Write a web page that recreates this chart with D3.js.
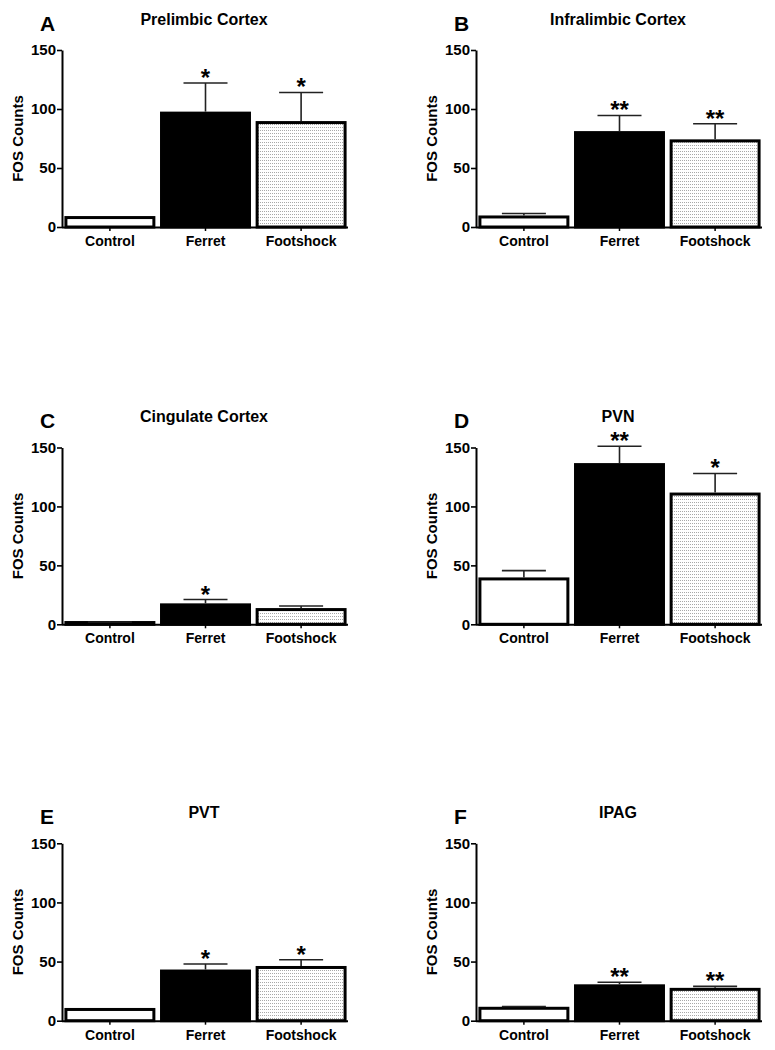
<!DOCTYPE html>
<html>
<head>
<meta charset="utf-8">
<script src="https://cdn.jsdelivr.net/npm/d3@7"></script>
<style>
  body { margin: 0; background: #fff; }
  svg { display: block; }
  text { font-family: "Liberation Sans", Arial, sans-serif; font-weight: bold; fill: #000; }
</style>
</head>
<body>
<svg id="chart" width="775" height="1050"></svg>
<script>
// ---- data ----
const categories = ["Control", "Ferret", "Footshock"];
const panelLetters = ["A", "B", "C", "D", "E", "F"];
const panelTitles = ["Prelimbic Cortex", "Infralimbic Cortex", "Cingulate Cortex", "PVN", "PVT", "IPAG"];
const yTicks = [0, 50, 100, 150];
const yLabel = "FOS Counts";

const prelimbicMeans = [8, 96.5, 88.5];
const prelimbicSem = [0, 25.5, 25.5];
const infralimbicMeans = [8.5, 80, 73];
const infralimbicSem = [3, 14.5, 14.5];
const cingulateMeans = [1.5, 16.5, 12.5];
const cingulateSem = [0.5, 4.5, 3];
const pvnMeans = [38.5, 135.5, 110.5];
const pvnSem = [7, 15.5, 17.5];
const pvtMeans = [9.5, 42, 45];
const pvtSem = [0, 6, 6.5];
const ipagMeans = [10.5, 29.5, 26.5];
const ipagSem = [1.5, 3, 2.5];

const prelimbicStars = ["", "*", "*"];
const infralimbicStars = ["", "**", "**"];
const cingulateStars = ["", "*", ""];
const pvnStars = ["", "**", "*"];
const pvtStars = ["", "*", "*"];
const ipagStars = ["", "**", "**"];

const panelMeans = [prelimbicMeans, infralimbicMeans, cingulateMeans, pvnMeans, pvtMeans, ipagMeans];
const panelSem = [prelimbicSem, infralimbicSem, cingulateSem, pvnSem, pvtSem, ipagSem];
const panelStars = [prelimbicStars, infralimbicStars, cingulateStars, pvnStars, pvtStars, ipagStars];

// ---- layout ----
const colAxisX = [62, 476];
const rowY0 = [227, 624.3, 1020.7];
const rowY150 = [50, 447.5, 843.3];
const axisLen = 286;

const svg = d3.select("#chart");

// dotted pattern for Footshock
const defs = svg.append("defs");
const pat = defs.append("pattern")
  .attr("id", "dots").attr("patternUnits", "userSpaceOnUse")
  .attr("width", 2).attr("height", 3);
pat.append("rect").attr("width", 2).attr("height", 3).attr("fill", "#fff");
pat.append("rect").attr("x", 0).attr("y", 1).attr("width", 1).attr("height", 1).attr("fill", "#a8a8a8");

const fills = ["#fff", "#000", "url(#dots)"];

panelTitles.forEach((title, i) => {
  const col = i % 2, row = Math.floor(i / 2);
  const ax = colAxisX[col];
  const y = d3.scaleLinear().domain([0, 150]).range([rowY0[row], rowY150[row]]);
  const x = d3.scaleBand().domain(categories)
    .range([ax + 2, ax + axisLen - 1]).paddingInner(0.08).paddingOuter(0.02);
  const g = svg.append("g");
  const means = panelMeans[i], sem = panelSem[i], stars = panelStars[i];

  // bars
  g.selectAll("rect.bar").data(categories).join("rect")
    .attr("class", "bar")
    .attr("x", d => x(d))
    .attr("y", (d, k) => y(means[k]))
    .attr("width", x.bandwidth())
    .attr("height", (d, k) => y(0) - y(means[k]))
    .attr("fill", (d, k) => fills[k])
    .attr("stroke", "#000").attr("stroke-width", 3);

  // error bars
  categories.forEach((c, k) => {
    if (sem[k] <= 0) return;
    const cx = x(c) + x.bandwidth() / 2;
    const ytop = y(means[k] + sem[k]);
    g.append("line").attr("x1", cx).attr("x2", cx)
      .attr("y1", y(means[k]) - 1.5).attr("y2", ytop)
      .attr("stroke", "#222").attr("stroke-width", 1.6);
    g.append("line").attr("x1", cx - 22).attr("x2", cx + 22)
      .attr("y1", ytop).attr("y2", ytop)
      .attr("stroke", "#222").attr("stroke-width", 1.6);
    if (stars[k]) {
      g.append("text").attr("x", cx).attr("y", ytop + 3)
        .attr("text-anchor", "middle").style("font-size", "24px")
        .text(stars[k]);
    }
  });

  // y axis
  const yAxis = d3.axisLeft(y).tickValues(yTicks).tickSize(5).tickPadding(1).tickSizeOuter(0);
  const ya = g.append("g").attr("transform", `translate(${ax},0)`).call(yAxis);
  ya.select(".domain").attr("stroke", "#000").attr("stroke-width", 2);
  ya.selectAll(".tick line").attr("stroke", "#000").attr("stroke-width", 1.6);
  ya.selectAll(".tick text").style("font-size", "15px")
    .style("font-family", '"Liberation Sans", Arial, sans-serif').style("font-weight", "bold")
    .attr("fill", "#000");

  // x axis
  const xAxis = d3.axisBottom(x).tickSize(4).tickPadding(5).tickSizeOuter(0);
  const xa = g.append("g").attr("transform", `translate(0,${rowY0[row]})`).call(xAxis);
  xa.select(".domain").attr("d", `M${ax},0.5H${ax + axisLen}`).attr("stroke", "#000").attr("stroke-width", 2);
  xa.selectAll(".tick line").attr("stroke", "#000").attr("stroke-width", 1.5);
  xa.selectAll(".tick text").style("font-size", "14px")
    .style("font-family", '"Liberation Sans", Arial, sans-serif').style("font-weight", "bold")
    .attr("fill", "#000");

  // y label
  const midY = (rowY0[row] + rowY150[row]) / 2;
  g.append("text")
    .attr("transform", `translate(${ax - 39},${midY}) rotate(-90)`)
    .attr("text-anchor", "middle").style("font-size", "15px")
    .text(yLabel);

  // title
  g.append("text").attr("x", ax + 142).attr("y", rowY150[row] - 25.5)
    .attr("text-anchor", "middle").style("font-size", "16px").text(title);

  // panel letter
  g.append("text").attr("x", ax - 22).attr("y", rowY150[row] - 19.5)
    .style("font-size", "21px").text(panelLetters[i]);
});
</script>
</body>
</html>
